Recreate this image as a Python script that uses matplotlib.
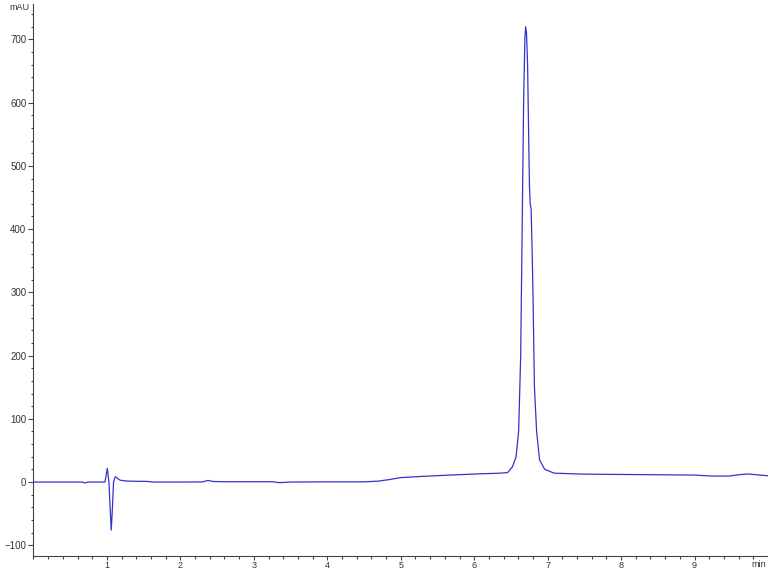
import matplotlib
matplotlib.use('Agg')
import matplotlib.pyplot as plt
from matplotlib.ticker import MultipleLocator

plt.rcParams['font.family'] = ['Liberation Sans', 'DejaVu Sans']

# chromatogram trace (time in min, signal in mAU)
time_min = [0.00, 0.50, 0.66, 0.70, 0.74, 0.90, 0.973, 1.005, 1.027, 1.045, 1.059,
            1.075, 1.09, 1.105, 1.118, 1.14, 1.177, 1.27, 1.40, 1.55, 1.62,
            2.00, 2.30, 2.375, 2.45, 2.60, 3.00, 3.25, 3.35, 3.50, 4.00,
            4.50, 4.70, 4.85, 5.00, 5.30, 5.67, 6.07, 6.35, 6.456, 6.52,
            6.57, 6.605, 6.633, 6.653, 6.673, 6.69, 6.70, 6.712, 6.727, 6.74,
            6.752, 6.762, 6.775, 6.79, 6.80, 6.82, 6.85, 6.89, 6.96, 7.09,
            7.50, 8.00, 8.50, 9.00, 9.23, 9.47, 9.60, 9.72, 9.85, 9.99]
signal_mau = [0.0, 0.0, 0.0, -1.5, 0.0, 0.0, 0.0, 21.7, 0.0, -45.0, -76.0,
              -40.0, 0.0, 6.0, 8.4, 6.0, 3.0, 1.5, 1.2, 1.0, 0.0,
              0.0, 0.2, 2.5, 0.8, 0.5, 0.5, 0.5, -1.0, 0.0, 0.3,
              0.3, 1.5, 4.0, 7.0, 9.0, 11.0, 13.0, 14.0, 15.0, 24.0,
              40.0, 80.0, 200.0, 400.0, 600.0, 700.0, 720.0, 710.0, 660.0, 560.0,
              470.0, 440.0, 432.0, 360.0, 300.0, 150.0, 80.0, 35.0, 20.0, 14.0,
              12.5, 12.0, 11.5, 11.0, 9.5, 9.5, 11.5, 12.7, 11.5, 10.0]

fig = plt.figure(figsize=(7.68, 5.69), dpi=100)
ax = fig.add_axes([0.0436, 0.0228, 0.9564, 0.9702])

ax.plot(time_min, signal_mau, color='#3333cc', linewidth=0.9)

ax.set_xlim(0, 10)
ax.set_ylim(-117, 756)

# ticks: labelled every 1 min / 100 mAU, minor every 0.2 min / 20 mAU
ax.xaxis.set_major_locator(MultipleLocator(1))
ax.xaxis.set_minor_locator(MultipleLocator(0.2))
ax.yaxis.set_major_locator(MultipleLocator(100))
ax.yaxis.set_minor_locator(MultipleLocator(20))
ax.set_xticks([1, 2, 3, 4, 5, 6, 7, 8, 9])
ax.tick_params(axis='y', which='major', length=3.6, width=0.8, labelsize=7,
               color='#444444', labelcolor='#333333', pad=1.5)
ax.tick_params(axis='x', which='major', length=2.8, width=0.8, labelsize=6.5,
               color='#444444', labelcolor='#333333', pad=0.6)
ax.tick_params(axis='both', which='minor', length=1.8, width=0.8, color='#444444')

ax.spines['top'].set_visible(False)
ax.spines['right'].set_visible(False)
ax.spines['left'].set_color('#444444')
ax.spines['bottom'].set_color('#444444')

# unit labels like the instrument software puts them
fig.text(0.026, 0.986, 'mAU', fontsize=6.5, color='#333333', ha='center', va='center')
fig.text(0.998, 0.008, 'min', fontsize=6.5, color='#333333', ha='right', va='center')

fig.savefig('out.png', dpi=100)
